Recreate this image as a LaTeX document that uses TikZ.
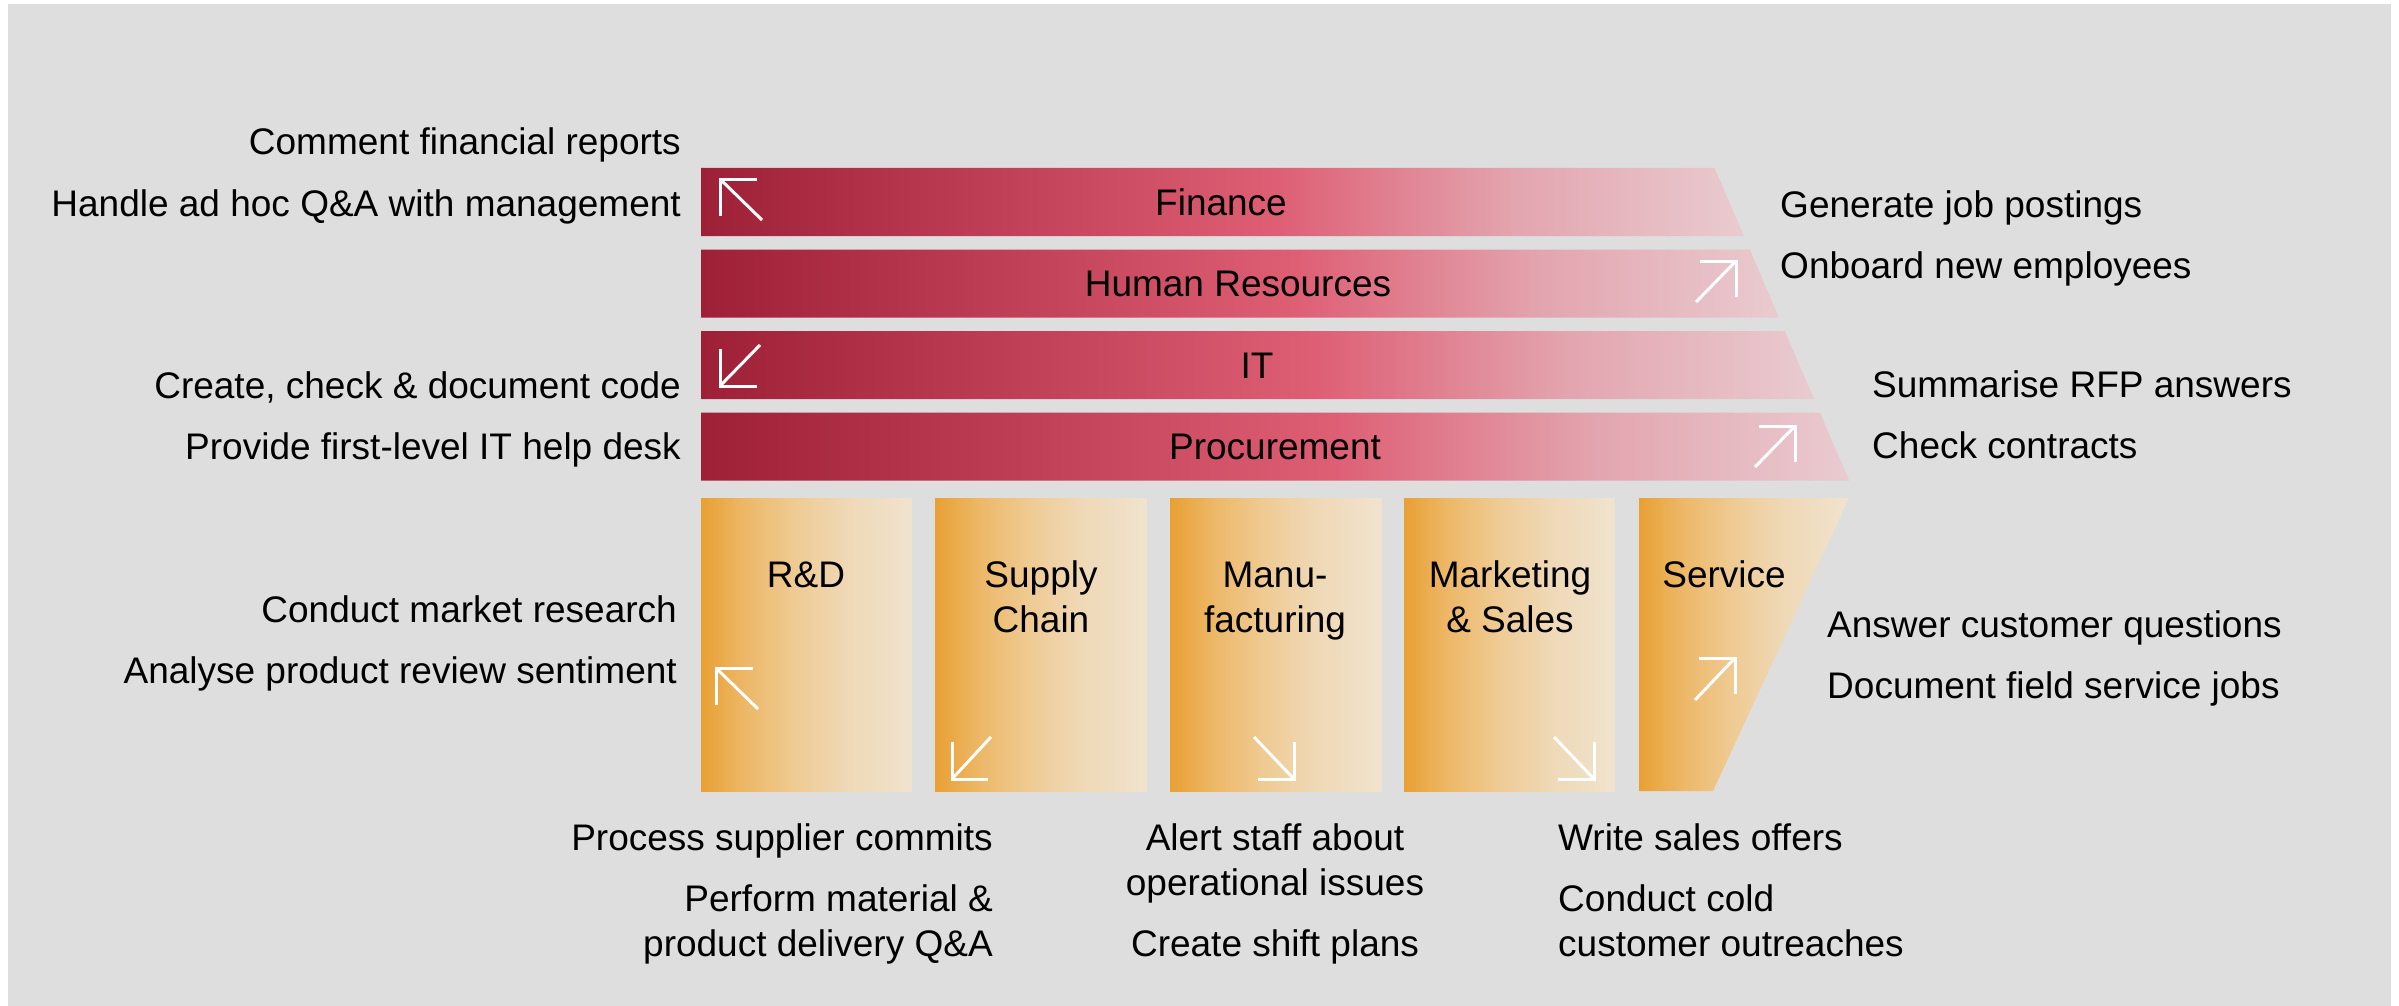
\documentclass[tikz,border=0pt]{standalone}
\usepackage{fontspec}
\setmainfont{Liberation Sans}
\definecolor{bg}{RGB}{222,222,222}
\definecolor{rA}{RGB}{158,32,54}
\definecolor{rB}{RGB}{222,94,116}
\definecolor{rC}{RGB}{227,165,175}
\definecolor{rD}{RGB}{233,203,208}
\definecolor{oA}{RGB}{232,160,51}
\definecolor{oB}{RGB}{237,183,102}
\definecolor{oC}{RGB}{239,203,148}
\definecolor{oD}{RGB}{239,216,181}
\definecolor{oE}{RGB}{240,227,206}
\pgfdeclarehorizontalshading{redbar}{100bp}{color(0bp)=(rA); color(25bp)=(rA); color(52.5bp)=(rB); color(64bp)=(rC); color(75bp)=(rD); color(100bp)=(rD)}
\pgfdeclarehorizontalshading{orangebox}{100bp}{color(0bp)=(oA); color(25bp)=(oA); color(35bp)=(oB); color(47.5bp)=(oC); color(59bp)=(oD); color(75bp)=(oE); color(100bp)=(oE)}
\begin{document}
\begin{tikzpicture}[x=1pt,y=-1pt,
  every node/.style={font=\fontsize{37}{45}\selectfont, inner sep=0pt, text=black},
  bar/.style={shading=redbar},
  act/.style={shading=orangebox},
  wline/.style={draw=white, line width=3pt, line cap=butt, line join=miter},
  lt/.style={anchor=base east, align=right},
  rt/.style={anchor=base west, align=left},
  ct/.style={anchor=base, align=center}]
\useasboundingbox (0,0) rectangle (2399,1006);
\fill[white] (0,0) rectangle (2399,1006);
\fill[bg] (8,4) rectangle (2391,1006);

% support activities
\path[bar] (701,168) -- (1714.6,168) -- (1743.9,236) -- (701,236) -- cycle;
\path[bar] (701,249.5) -- (1749.7,249.5) -- (1779.0,317.5) -- (701,317.5) -- cycle;
\path[bar] (701,331) -- (1784.8,331) -- (1814.0,399) -- (701,399) -- cycle;
\path[bar] (701,412.5) -- (1819.9,412.5) -- (1849.1,480.5) -- (701,480.5) -- cycle;
\node[ct] (fin) at (1221,215) {Finance};
\node[ct] (hr) at (1238,296) {Human Resources};
\node[ct] (it) at (1257,378) {IT};
\node[ct] (proc) at (1275,459) {Procurement};

% primary activities (multi-line nodes are placed at the baseline of their last line)
\path[act] (701,498) rectangle (912,791);
\path[act] (935,498) rectangle (1147,791);
\path[act] (1170,498) rectangle (1382,791);
\path[act] (1404,498) rectangle (1615,791);
\path[act] (1639,498) -- (1849,498) -- (1713,791) -- (1639,791) -- cycle;
\node[ct] (rd) at (806,587) {R\&D};
\node[ct] (sc) at (1041,632) {Supply\\Chain};
\node[ct] (mf) at (1275,632) {Manu-\\facturing};
\node[ct] (ms) at (1510,632) {Marketing\\\& Sales};
\node[ct] (sv) at (1724,587) {Service};

% arrows
\draw[wline] (762,220) -- (720,179);
\draw[wline] (757,179) -- (720,179) -- (720,216);
\draw[wline] (1696,302) -- (1736,261);
\draw[wline] (1700,261) -- (1736,261) -- (1736,297);
\draw[wline] (760,345) -- (720,386);
\draw[wline] (720,349) -- (720,386) -- (757,386);
\draw[wline] (1755,467) -- (1795,426);
\draw[wline] (1759,426) -- (1795,426) -- (1795,462);
\draw[wline] (758,709) -- (716,668);
\draw[wline] (753,668) -- (716,668) -- (716,705);
\draw[wline] (991,737) -- (952,779);
\draw[wline] (952,742) -- (952,779) -- (988,779);
\draw[wline] (1254,737) -- (1294,779);
\draw[wline] (1258,779) -- (1294,779) -- (1294,742);
\draw[wline] (1554,737) -- (1594,779);
\draw[wline] (1558,779) -- (1594,779) -- (1594,742);
\draw[wline] (1695,700) -- (1735,658);
\draw[wline] (1699,658) -- (1735,658) -- (1735,694);

% left texts
\node[lt] (t1) at (681,155) {Comment financial reports};
\node[lt] (t2) at (681,216) {Handle ad hoc Q\&A with management};
\node[lt] (t3) at (681,398) {Create, check \& document code};
\node[lt] (t4) at (681,459) {Provide first-level IT help desk};
\node[lt] (t5) at (677,622) {Conduct market research};
\node[lt] (t6) at (677,683) {Analyse product review sentiment};
% right texts
\node[rt] (t7) at (1780,217) {Generate job postings};
\node[rt] (t8) at (1780,278) {Onboard new employees};
\node[rt] (t9) at (1872,397) {Summarise RFP answers};
\node[rt] (t10) at (1872,458) {Check contracts};
\node[rt] (t11) at (1827,637) {Answer customer questions};
\node[rt] (t12) at (1827,698) {Document field service jobs};
% bottom texts
\node[lt] (t13) at (993,850) {Process supplier commits};
\node[lt] (t14) at (993,956) {Perform material \&\\product delivery Q\&A};
\node[ct] (t15) at (1275,895) {Alert staff about\\operational issues};
\node[ct] (t16) at (1275,956) {Create shift plans};
\node[rt] (t17) at (1558,850) {Write sales offers};
\node[rt] (t18) at (1558,956) {Conduct cold\\customer outreaches};
\end{tikzpicture}
\end{document}
